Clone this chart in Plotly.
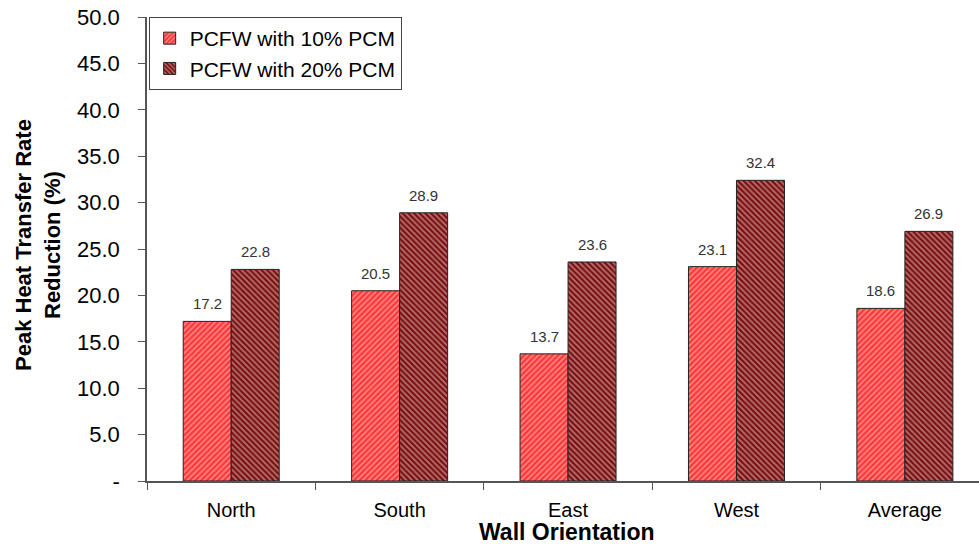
import plotly.graph_objects as go

categories = ["North", "South", "East", "West", "Average"]
pcm10 = [17.2, 20.5, 13.7, 23.1, 18.6]
pcm20 = [22.8, 28.9, 23.6, 32.4, 26.9]
ytick_vals = [0, 5, 10, 15, 20, 25, 30, 35, 40, 45, 50]
ytick_text = ["-", "5.0", "10.0", "15.0", "20.0", "25.0", "30.0", "35.0", "40.0", "45.0", "50.0"]

FONT = "Arial, Liberation Sans, sans-serif"

fig = go.Figure()
fig.add_trace(go.Bar(
    x=categories, y=pcm10, name="PCFW with 10% PCM",
    marker=dict(color="#ff3b3b", line=dict(color="#222", width=1),
                pattern=dict(shape="/", fgcolor="#ffd8d8", bgcolor="#ff3535", size=4, solidity=0.45)),
    cliponaxis=False,
))
fig.add_trace(go.Bar(
    x=categories, y=pcm20, name="PCFW with 20% PCM",
    marker=dict(color="#7a1212", line=dict(color="#222", width=1),
                pattern=dict(shape="\\", fgcolor="#f4d4d4", bgcolor="#7a1010", size=4, solidity=0.45)),
    cliponaxis=False,
))

# value labels above bars (shifted to each bar of the group)
labels = []
for series, shift in ((pcm10, -24), (pcm20, 24)):
    for cat, v in zip(categories, series):
        labels.append(dict(x=cat, y=v, xref="x", yref="y", text=f"{v:.1f}",
                           showarrow=False, xshift=shift, yshift=7, yanchor="bottom",
                           font=dict(family=FONT, size=15, color="#333")))

fig.update_layout(
    width=979, height=544,
    margin=dict(l=147, r=0, t=17, b=63),
    paper_bgcolor="white", plot_bgcolor="white",
    barmode="group", bargap=0.43, bargroupgap=0,
    font=dict(family=FONT, size=18, color="black"),
    showlegend=True,
    legend=dict(x=0.002, y=1.0, xanchor="left", yanchor="top",
                bordercolor="#444", borderwidth=1, bgcolor="white",
                font=dict(size=21), tracegroupgap=0, itemwidth=30),
    xaxis=dict(
        type="category", range=[-0.5, 4.44], tickson="boundaries",
        ticks="outside", ticklen=7, tickcolor="#555",
        showline=True, linecolor="#555", linewidth=1.5,
        tickfont=dict(size=20), ticklabelstandoff=10, automargin=False,
    ),
    yaxis=dict(
        range=[0, 50], tickvals=ytick_vals, ticktext=ytick_text,
        ticks="outside", ticklen=7, tickcolor="#555",
        showline=True, linecolor="#555", linewidth=1.5,
        showgrid=False, zeroline=False,
        tickfont=dict(size=22), ticklabelstandoff=14, automargin=False,
    ),
    annotations=labels + [
        dict(text="<b>Wall Orientation</b>", xref="paper", yref="paper",
             x=(567 - 147) / 832, y=-(532 - 481) / 464, xanchor="center", yanchor="middle",
             showarrow=False, font=dict(family=FONT, size=23, color="black")),
        dict(text="<b>Peak Heat Transfer Rate<br>Reduction (%)</b>", xref="paper", yref="paper",
             x=(38 - 147) / 832, y=(481 - 245) / 464, xanchor="center", yanchor="middle",
             textangle=-90, showarrow=False,
             font=dict(family=FONT, size=22, color="black")),
    ],
)

fig.write_html("out.html", config={"displayModeBar": False},
               post_script="document.body.style.margin='0';document.body.style.overflow='hidden';")
